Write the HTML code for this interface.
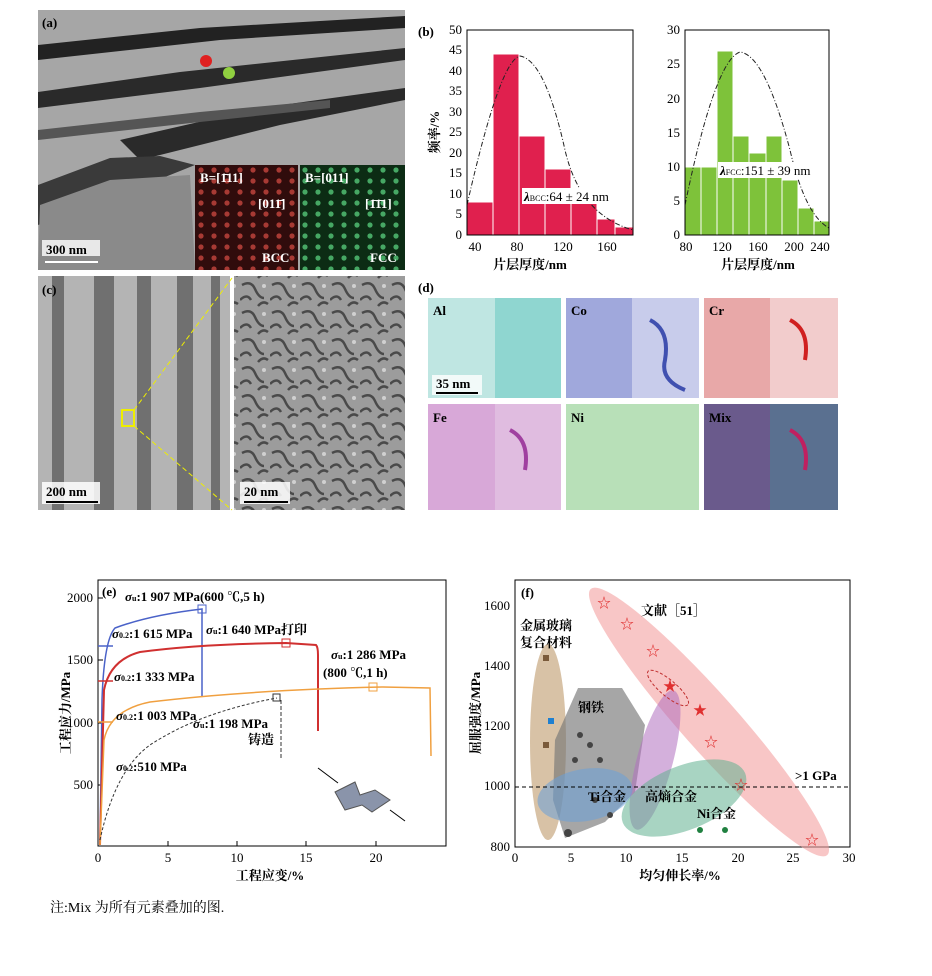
<!DOCTYPE html>
<html><head><meta charset="utf-8"><style>
body{margin:0;background:#fff}
svg{display:block;font-family:"Liberation Serif","Noto Serif CJK SC",serif}
.t{font-size:13px;font-weight:bold}
</style></head><body>
<svg width="932" height="976" viewBox="0 0 932 976" xmlns="http://www.w3.org/2000/svg">
<defs>
<pattern id="dotsR" width="13" height="11" patternUnits="userSpaceOnUse"><rect width="13" height="11" fill="#300c0c"/><circle cx="6" cy="5" r="2.6" fill="#a83a34"/></pattern>
<pattern id="dotsG" width="13" height="11" patternUnits="userSpaceOnUse"><rect width="13" height="11" fill="#0c2c14"/><circle cx="6" cy="5" r="2.6" fill="#46a864"/></pattern>
<pattern id="noise" width="30" height="28" patternUnits="userSpaceOnUse"><rect width="30" height="28" fill="#9c9c9c"/><path d="M2 5q9-5 13 4t9 9M0 20q7-7 11 0M18 26q5-6 10-2" stroke="#4a4a4a" stroke-width="2.5" fill="none"/><circle cx="24" cy="6" r="2" fill="#d0d0d0"/></pattern>
</defs>

<!-- (a) -->
<rect x="38" y="10" width="367" height="260" fill="#a6a6a6"/>
<polygon points="38,45 200,28 405,16 405,28 220,40 38,60" fill="#222"/>
<polygon points="38,92 180,72 405,48 405,60 200,88 38,108" fill="#2a2a2a"/>
<polygon points="120,140 260,108 405,88 405,100 280,125 140,160" fill="#2a2a2a"/>
<polygon points="38,130 200,112 330,100 330,108 200,122 38,140" fill="#555"/>
<polygon points="38,185 110,158 160,156 195,165 120,195 38,225" fill="#3a3a3a"/>
<polygon points="40,205 110,180 190,175 195,270 38,270" fill="#8a8a8a"/>
<rect x="195" y="165" width="103" height="105" fill="url(#dotsR)"/>
<rect x="300" y="165" width="105" height="105" fill="url(#dotsG)"/>
<circle cx="206" cy="61" r="6" fill="#e02020"/><circle cx="229" cy="73" r="6" fill="#90d040"/>
<text x="42" y="27" class="t" fill="#000">(a)</text>
<text x="200" y="182" class="t" fill="#fff">B=[1̄11]</text><text x="305" y="182" class="t" fill="#fff">B=[011]</text>
<text x="258" y="208" class="t" fill="#fff">[011̄]</text><text x="365" y="208" class="t" fill="#fff">[1̄1̄1]</text>
<text x="262" y="262" class="t" fill="#fff">BCC</text><text x="370" y="262" class="t" fill="#fff">FCC</text>
<rect x="42" y="240" width="58" height="16" fill="#fff" opacity=".8"/>
<text x="46" y="254" class="t">300 nm</text>
<line x1="45" y1="262" x2="98" y2="262" stroke="#fff" stroke-width="2"/>

<!-- (b) left -->
<text x="418" y="36" class="t">(b)</text>
<g fill="#e0204e" stroke="#fff" stroke-width="1">
<rect x="467" y="202" width="26" height="33"/><rect x="493" y="54" width="26" height="181"/>
<rect x="519" y="136" width="26" height="99"/><rect x="545" y="169" width="26" height="66"/>
<rect x="571" y="202" width="26" height="33"/><rect x="597" y="219" width="18" height="16"/>
<rect x="615" y="227" width="18" height="8"/></g>
<path d="M467,205 Q500,60 520,56 Q545,60 565,150 Q580,215 633,230" stroke="#222" stroke-dasharray="5,2,1,2" fill="none"/>
<rect x="467" y="30" width="166" height="205" fill="none" stroke="#000"/>
<g font-size="13" text-anchor="end"><text x="462" y="239">0</text><text x="462" y="218">5</text><text x="462" y="198">10</text><text x="462" y="177">15</text><text x="462" y="157">20</text><text x="462" y="136">25</text><text x="462" y="116">30</text><text x="462" y="95">35</text><text x="462" y="75">40</text><text x="462" y="54">45</text><text x="462" y="34">50</text></g>
<g font-size="13" text-anchor="middle"><text x="475" y="251">40</text><text x="517" y="251">80</text><text x="563" y="251">120</text><text x="607" y="251">160</text></g>
<text x="530" y="269" class="t" text-anchor="middle">片层厚度/nm</text>
<text transform="translate(439,132) rotate(-90)" class="t" text-anchor="middle">频率/%</text>
<rect x="522" y="188" width="108" height="16" fill="#fff"/>
<text x="524" y="201" font-size="13"><tspan font-style="italic" font-weight="bold">λ</tspan><tspan font-size="8">BCC</tspan>:64 ± 24 nm</text>

<!-- (b) right -->
<g fill="#7ec23a" stroke="#fff" stroke-width="1">
<rect x="685" y="167" width="16" height="68"/><rect x="701" y="167" width="16" height="68"/>
<rect x="717" y="51" width="16" height="184"/><rect x="733" y="136" width="16" height="99"/>
<rect x="749" y="153" width="17" height="82"/><rect x="766" y="136" width="16" height="99"/>
<rect x="782" y="180" width="16" height="55"/><rect x="798" y="208" width="16" height="27"/>
<rect x="814" y="221" width="15" height="14"/></g>
<path d="M685,205 Q715,60 740,52 Q765,55 790,150 Q805,215 829,228" stroke="#222" stroke-dasharray="5,2,1,2" fill="none"/>
<rect x="685" y="30" width="144" height="205" fill="none" stroke="#000"/>
<g font-size="13" text-anchor="end"><text x="680" y="239">0</text><text x="680" y="205">5</text><text x="680" y="171">10</text><text x="680" y="137">15</text><text x="680" y="103">20</text><text x="680" y="68">25</text><text x="680" y="34">30</text></g>
<g font-size="13" text-anchor="middle"><text x="686" y="251">80</text><text x="722" y="251">120</text><text x="758" y="251">160</text><text x="794" y="251">200</text><text x="820" y="251">240</text></g>
<text x="758" y="269" class="t" text-anchor="middle">片层厚度/nm</text>
<rect x="718" y="162" width="110" height="16" fill="#fff"/>
<text x="720" y="175" font-size="13"><tspan font-style="italic" font-weight="bold">λ</tspan><tspan font-size="8">FCC</tspan>:151 ± 39 nm</text>

<!-- (c) -->
<rect x="38" y="276" width="192" height="234" fill="#b4b4b4"/>
<g fill="#707070"><rect x="52" y="276" width="12" height="234"/><rect x="94" y="276" width="20" height="234"/><rect x="137" y="276" width="14" height="234"/><rect x="177" y="276" width="16" height="234"/><rect x="211" y="276" width="9" height="234"/></g>
<rect x="234" y="276" width="171" height="234" fill="url(#noise)"/>
<rect x="122" y="410" width="12" height="16" fill="none" stroke="#ee0" stroke-width="2"/>
<line x1="134" y1="410" x2="232" y2="278" stroke="#ee0" stroke-dasharray="5,3"/><line x1="134" y1="426" x2="232" y2="510" stroke="#ee0" stroke-dasharray="5,3"/>
<text x="42" y="294" class="t">(c)</text>
<rect x="42" y="482" width="58" height="22" fill="#fff" opacity=".85"/><text x="46" y="496" class="t">200 nm</text><line x1="46" y1="502" x2="98" y2="502" stroke="#000" stroke-width="2"/>
<rect x="240" y="482" width="50" height="22" fill="#fff" opacity=".85"/><text x="244" y="496" class="t">20 nm</text><line x1="244" y1="502" x2="288" y2="502" stroke="#000" stroke-width="2"/>

<!-- (d) -->
<text x="418" y="292" class="t">(d)</text>
<rect x="428" y="298" width="133" height="100" fill="#bfe6e2"/><rect x="495" y="298" width="66" height="100" fill="#8fd6d0"/>
<rect x="566" y="298" width="133" height="100" fill="#a0a8dc"/><rect x="632" y="298" width="67" height="100" fill="#c8cceb"/>
<rect x="704" y="298" width="134" height="100" fill="#e8a8a8"/><rect x="770" y="298" width="68" height="100" fill="#f2cccc"/>
<rect x="428" y="404" width="133" height="106" fill="#d8a8d8"/><rect x="495" y="404" width="66" height="106" fill="#e0bce0"/>
<rect x="566" y="404" width="133" height="106" fill="#b8e0b8"/>
<rect x="704" y="404" width="134" height="106" fill="#6a5a8c"/><rect x="770" y="404" width="68" height="106" fill="#5a7090"/>
<g fill="none" stroke-width="4"><path d="M650,320 q20,10 15,40 q-5,20 20,30" stroke="#4050b0"/><path d="M790,320 q20,10 15,40" stroke="#d02020"/><path d="M510,430 q20,10 15,40" stroke="#a040a0"/><path d="M790,430 q20,10 15,40" stroke="#c02060"/></g>
<g class="t"><text x="433" y="315">Al</text><text x="571" y="315">Co</text><text x="709" y="315">Cr</text><text x="433" y="422">Fe</text><text x="571" y="422">Ni</text><text x="709" y="422">Mix</text></g>
<rect x="432" y="375" width="50" height="20" fill="#fff" opacity=".8"/><text x="436" y="388" class="t">35 nm</text><line x1="436" y1="393" x2="478" y2="393" stroke="#000" stroke-width="2"/>

<!-- (e) -->
<rect x="98" y="580" width="348" height="266" fill="none" stroke="#000"/>
<g font-size="13" text-anchor="end"><text x="93" y="602">2000</text><text x="93" y="664">1500</text><text x="93" y="727">1000</text><text x="93" y="789">500</text></g>
<g stroke="#000"><line x1="98" y1="598" x2="103" y2="598"/><line x1="98" y1="660" x2="103" y2="660"/><line x1="98" y1="723" x2="103" y2="723"/><line x1="98" y1="785" x2="103" y2="785"/>
<line x1="168" y1="846" x2="168" y2="841"/><line x1="237" y1="846" x2="237" y2="841"/><line x1="306" y1="846" x2="306" y2="841"/><line x1="376" y1="846" x2="376" y2="841"/></g>
<g font-size="13" text-anchor="middle"><text x="98" y="862">0</text><text x="168" y="862">5</text><text x="237" y="862">10</text><text x="306" y="862">15</text><text x="376" y="862">20</text></g>
<text x="270" y="880" class="t" text-anchor="middle">工程应变/%</text>
<text transform="translate(70,713) rotate(-90)" class="t" text-anchor="middle">工程应力/MPa</text>
<g fill="none" stroke-width="1.5">
<path d="M100,845 L102,700 Q104,640 115,628 Q150,615 202,609 L202,697" stroke="#4a62c8"/>
<path d="M100,845 L104,690 Q110,660 140,652 Q200,644 286,643 L316,645 Q318,647 318,655 L318,731" stroke="#d03030" stroke-width="2"/>
<path d="M100,845 L104,740 Q110,710 150,702 Q250,690 383,687 L430,688 L431,756" stroke="#f0a040"/>
<path d="M100,840 Q115,770 150,745 Q200,712 277,698" stroke="#333" stroke-dasharray="3,2" stroke-width="1"/>
<line x1="281" y1="700" x2="281" y2="760" stroke="#333" stroke-dasharray="4,2" stroke-width="1"/>
<line x1="98" y1="646" x2="113" y2="646" stroke="#4a62c8"/><line x1="98" y1="681" x2="113" y2="681" stroke="#d03030"/><line x1="98" y1="722" x2="113" y2="722" stroke="#f0a040"/>
</g>
<g fill="none" stroke-width="1"><rect x="198" y="605" width="8" height="8" stroke="#4a62c8"/><rect x="282" y="639" width="8" height="8" stroke="#d03030"/><rect x="369" y="683" width="8" height="8" stroke="#f0a040"/><rect x="273" y="694" width="7" height="7" stroke="#333"/></g>
<g font-size="13" font-weight="bold">
<text x="102" y="596">(e)</text>
<text x="125" y="601"><tspan font-style="italic">σ</tspan><tspan font-size="8">u</tspan>:1 907 MPa(600 ℃,5 h)</text>
<text x="112" y="638"><tspan font-style="italic">σ</tspan><tspan font-size="8">0.2</tspan>:1 615 MPa</text>
<text x="206" y="634"><tspan font-style="italic">σ</tspan><tspan font-size="8">u</tspan>:1 640 MPa打印</text>
<text x="114" y="681"><tspan font-style="italic">σ</tspan><tspan font-size="8">0.2</tspan>:1 333 MPa</text>
<text x="331" y="659"><tspan font-style="italic">σ</tspan><tspan font-size="8">u</tspan>:1 286 MPa</text>
<text x="323" y="677">(800 ℃,1 h)</text>
<text x="116" y="720"><tspan font-style="italic">σ</tspan><tspan font-size="8">0.2</tspan>:1 003 MPa</text>
<text x="193" y="728"><tspan font-style="italic">σ</tspan><tspan font-size="8">u</tspan>:1 198 MPa</text>
<text x="248" y="744">铸造</text>
<text x="116" y="771"><tspan font-style="italic">σ</tspan><tspan font-size="8">0.2</tspan>:510 MPa</text>
</g>
<line x1="318" y1="768" x2="338" y2="783" stroke="#000"/><line x1="390" y1="810" x2="405" y2="821" stroke="#000"/>
<polygon points="335,792 355,782 360,795 375,790 390,800 372,812 362,805 345,810" fill="#8a94aa" stroke="#555"/>

<!-- (f) -->
<rect x="515" y="580" width="335" height="267" fill="none" stroke="#000"/>
<g font-size="13" text-anchor="end"><text x="510" y="610">1600</text><text x="510" y="670">1400</text><text x="510" y="730">1200</text><text x="510" y="790">1000</text><text x="510" y="851">800</text></g>
<g font-size="13" text-anchor="middle"><text x="515" y="862">0</text><text x="571" y="862">5</text><text x="626" y="862">10</text><text x="682" y="862">15</text><text x="738" y="862">20</text><text x="793" y="862">25</text><text x="849" y="862">30</text></g>
<text x="680" y="880" class="t" text-anchor="middle">均匀伸长率/%</text>
<text transform="translate(480,713) rotate(-90)" class="t" text-anchor="middle">屈服强度/MPa</text>
<ellipse cx="709" cy="722" rx="178" ry="28" transform="rotate(48.4 709 722)" fill="#f4a0a0" opacity=".6"/>
<ellipse cx="548" cy="742" rx="18" ry="98" fill="#c8a880" opacity=".7"/>
<polygon points="578,688 622,688 645,725 635,792 605,822 565,838 553,800 555,740" fill="#777" opacity=".65"/>
<ellipse cx="655" cy="760" rx="18" ry="72" transform="rotate(15 655 760)" fill="#b070c0" opacity=".55"/>
<ellipse cx="585" cy="795" rx="48" ry="26" transform="rotate(-10 585 795)" fill="#6aa0d8" opacity=".55"/>
<ellipse cx="684" cy="798" rx="66" ry="32" transform="rotate(-22 684 798)" fill="#60b090" opacity=".55"/>
<ellipse cx="668" cy="688" rx="26" ry="8" transform="rotate(40 668 688)" fill="none" stroke="#c03030" stroke-dasharray="3,2"/>
<line x1="515" y1="787" x2="850" y2="787" stroke="#000" stroke-dasharray="4,3"/>
<g font-size="14" fill="#e03030" text-anchor="middle"><text x="604" y="608">☆</text><text x="627" y="629">☆</text><text x="653" y="656">☆</text><text x="711" y="747">☆</text><text x="741" y="790">☆</text><text x="812" y="845">☆</text><text x="670" y="691">★</text><text x="700" y="715">★</text></g>
<g fill="#444"><circle cx="580" cy="735" r="3"/><circle cx="590" cy="745" r="3"/><circle cx="600" cy="760" r="3"/><circle cx="575" cy="760" r="3"/><circle cx="595" cy="800" r="3"/><circle cx="610" cy="815" r="3"/><circle cx="568" cy="833" r="4"/><rect x="543" y="655" width="6" height="6" fill="#7a5a3a"/><rect x="543" y="742" width="6" height="6" fill="#7a5a3a"/><rect x="548" y="718" width="6" height="6" fill="#2080d0"/><circle cx="700" cy="830" r="3" fill="#208040"/><circle cx="725" cy="830" r="3" fill="#208040"/></g>
<g class="t"><text x="520" y="630">金属玻璃</text><text x="520" y="647">复合材料</text><text x="578" y="712">钢铁</text><text x="641" y="615">文献［51］</text><text x="588" y="801">Ti合金</text><text x="645" y="801">高熵合金</text><text x="697" y="818">Ni合金</text><text x="795" y="780">&gt;1 GPa</text><text x="521" y="597">(f)</text></g>

<text x="50" y="912" font-size="14">注:Mix 为所有元素叠加的图.</text>
</svg>
</body></html>
